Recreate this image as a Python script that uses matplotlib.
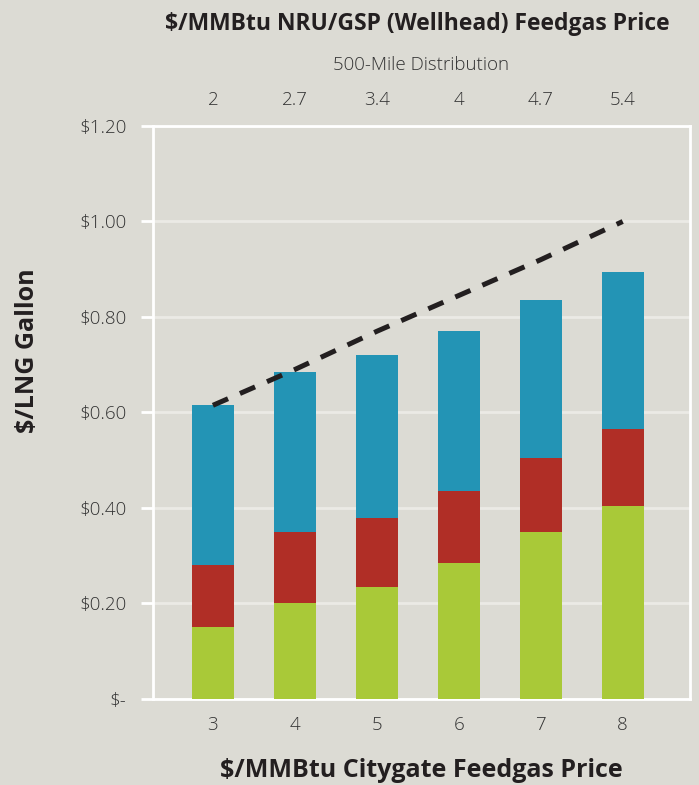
import matplotlib
matplotlib.use("Agg")
import matplotlib.pyplot as plt

# data
citygate = [3, 4, 5, 6, 7, 8]
wellhead = ["2", "2.7", "3.4", "4", "4.7", "5.4"]
feedgas = [0.15, 0.20, 0.235, 0.285, 0.35, 0.405]
liquefaction = [0.13, 0.15, 0.145, 0.15, 0.155, 0.16]
distribution = [0.335, 0.335, 0.34, 0.335, 0.33, 0.33]
diesel_line = [0.615, 0.69, 0.77, 0.845, 0.92, 1.0]
y_ticks = [0, 0.2, 0.4, 0.6, 0.8, 1.0, 1.2]
y_labels = ["$-", "$0.20", "$0.40", "$0.60", "$0.80", "$1.00", "$1.20"]

bg = "#dcdbd4"
text_col = "#333333"
plt.rcParams["font.family"] = ["Open Sans", "DejaVu Sans"]

fig = plt.figure(figsize=(6.99, 7.85), dpi=100, facecolor=bg)
ax = fig.add_axes([0.219, 0.1096, 0.768, 0.7299])
ax.set_facecolor(bg)

bottom2 = [a + b for a, b in zip(feedgas, liquefaction)]
ax.bar(citygate, feedgas, width=0.51, color="#a9c938", zorder=3)
ax.bar(citygate, liquefaction, width=0.51, bottom=feedgas, color="#b02e26", zorder=3)
ax.bar(citygate, distribution, width=0.51, bottom=bottom2, color="#2394b5", zorder=3)
ax.plot(citygate, diesel_line, color="#231f20", lw=3.6, dashes=(3.3, 2.6), zorder=4)

ax.set_xlim(2.27, 8.82)
ax.set_ylim(0, 1.2)
ax.set_yticks(y_ticks)
ax.set_yticklabels(y_labels)
ax.set_xticks(citygate)
ax.yaxis.grid(True, color="#ebeae5", lw=2, zorder=0)
for s in ax.spines.values():
    s.set_color("white")
    s.set_linewidth(2)

ax.tick_params(axis="y", colors="white", length=9, width=2, pad=10,
               labelcolor=text_col, labelsize=13.5)
ax.tick_params(axis="x", length=0, pad=12, labelcolor=text_col, labelsize=13.5)
for lbl in ax.get_xticklabels() + ax.get_yticklabels():
    lbl.set_fontweight(300)

# y label sits a bit above the axes centre in the original
fig.text(0.04, 0.553, "$/LNG Gallon", rotation=90, ha="center", va="center",
         fontsize=18, fontweight="bold", color="#231f20")
ax.set_xlabel("$/MMBtu Citygate Feedgas Price", fontsize=18, fontweight="bold",
              color="#231f20", labelpad=17.5)

# top axis: wellhead price
ax2 = ax.twiny()
ax2.set_xlim(ax.get_xlim())
ax2.set_xticks(citygate)
ax2.set_xticklabels(wellhead)
ax2.tick_params(axis="x", length=0, pad=12.5, labelcolor=text_col, labelsize=13.5)
for lbl in ax2.get_xticklabels():
    lbl.set_fontweight(300)
ax2.set_xlabel("500-Mile Distribution", fontsize=13.5, fontweight=300,
               color=text_col, labelpad=14.5)
for s in ax2.spines.values():
    s.set_visible(False)

fig.text(0.597, 0.970, "$/MMBtu NRU/GSP (Wellhead) Feedgas Price", ha="center", va="center",
         fontsize=16.5, fontweight="bold", color="#231f20")

fig.savefig("out.png", dpi=100, facecolor=bg)
